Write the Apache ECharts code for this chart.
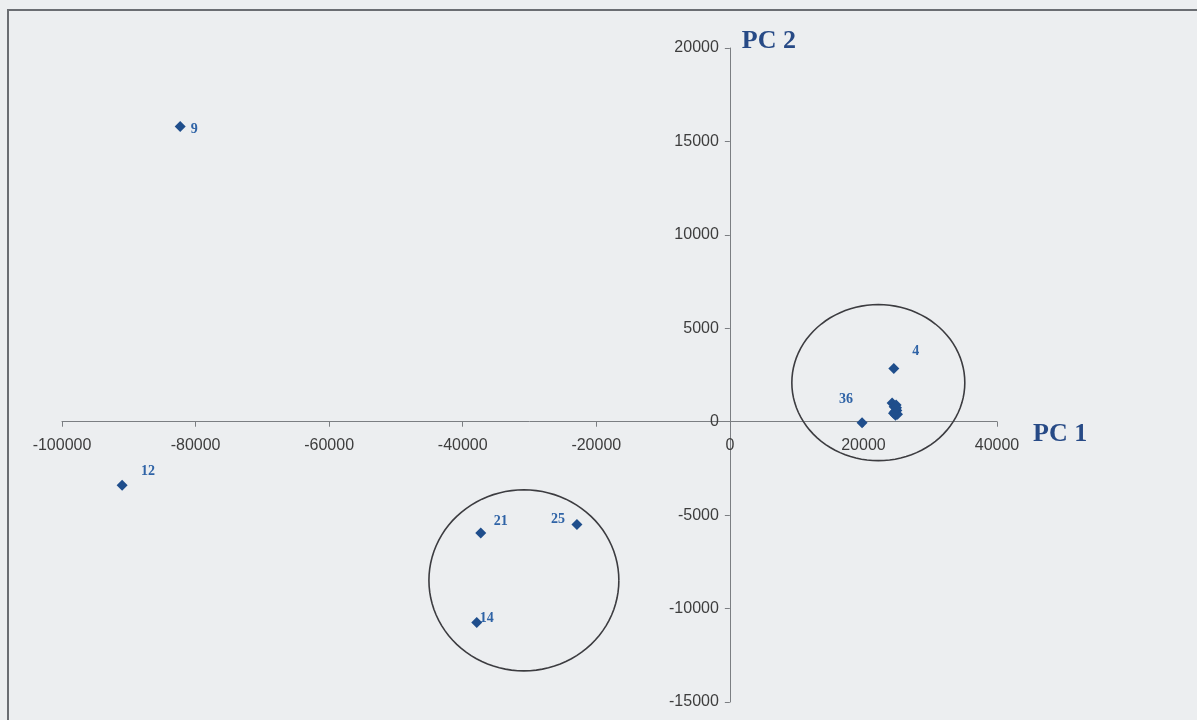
<!DOCTYPE html>
<html>
<head>
<meta charset="utf-8">
<style>
  html, body { margin: 0; padding: 0; background: #eceef0; }
  #frame { position: absolute; left: 7px; top: 9px; width: 1200px; height: 720px; border-left: 2px solid #6a6d72; border-top: 2px solid #6a6d72; }
  #chart { position: absolute; left: 0; top: 0; width: 1197px; height: 720px; }
</style>
<script src="https://cdn.jsdelivr.net/npm/echarts@6/dist/echarts.min.js"></script>
</head>
<body>
<div id="frame"></div>
<div id="chart"></div>
<script>
// Principal component scores (PC 1, PC 2) of the samples
const sampleNames = ['9', '12', '21', '25', '14', '36', '4'];
const pc1Scores   = [-82300, -91000, -37300, -22900, -37900, 19800, 24550];
const pc2Scores   = [15800, -3400, -5950, -5500, -10750, -50, 2850];
// Unlabelled samples packed together near the right cluster
const clusterPc1 = [24300, 24600, 24900, 24700, 25000, 24800, 25100, 24500, 24950];
const clusterPc2 = [1000, 800, 900, 550, 600, 350, 400, 450, 750];
// Group outlines: centre (PC 1, PC 2) and half-widths in axis units
const groupCentrePc1 = [22230, -30840];
const groupCentrePc2 = [2090, -8490];
const groupRadiusPc1 = [12950, 14220];
const groupRadiusPc2 = [4175, 4845];

const xTicks = { min: -100000, max: 40000, interval: 20000 };
const yTicks = { min: -15000, max: 20000, interval: 5000 };

// label placement per sample (offset in px from the marker)
const labelOffsets = {
  '9': [14, 3], '12': [26, -14], '21': [20, -12], '25': [-19, -5],
  '14': [10, -4], '36': [-16, -23], '4': [22, -17]
};

const markerColor = '#1f4e8c';
const labelColor = '#2f63a6';
const gridBox = { left: 62, top: 48, width: 935, height: 654 };

const labelled = sampleNames.map((n, i) => ({ value: [pc1Scores[i], pc2Scores[i]], name: n }));
const cluster = clusterPc1.map((x, i) => [x, clusterPc2[i]]);
const groups = groupCentrePc1.map((x, i) => [x, groupCentrePc2[i], groupRadiusPc1[i], groupRadiusPc2[i]]);

const plainNumber = v => String(v);

const chart = echarts.init(document.getElementById('chart'), null, { renderer: 'canvas' });
chart.setOption({
  backgroundColor: 'transparent',
  animation: false,
  grid: Object.assign({ containLabel: false, outerBoundsMode: 'none' }, gridBox),
  xAxis: {
    type: 'value', min: xTicks.min, max: xTicks.max, interval: xTicks.interval,
    position: 'bottom', offset: 0,
    splitLine: { show: false },
    axisLine: { onZero: false, lineStyle: { color: '#7b7e82', width: 1 } },
    axisTick: { show: true, length: 5, lineStyle: { color: '#7b7e82' } },
    axisLabel: { color: '#3d3d3d', fontFamily: 'Liberation Sans, Arial', fontSize: 16, margin: 16, formatter: plainNumber },
    name: 'PC 1', nameLocation: 'end', nameGap: 36,
    nameTextStyle: { color: '#274a86', fontFamily: 'Liberation Serif, Times New Roman', fontWeight: 'bold', fontSize: 26, verticalAlign: 'top', padding: [0, 0, 0, 0] }
  },
  yAxis: {
    type: 'value', min: yTicks.min, max: yTicks.max, interval: yTicks.interval,
    position: 'left', offset: 0,
    splitLine: { show: false },
    axisLine: { onZero: false, lineStyle: { color: '#7b7e82', width: 1 } },
    axisTick: { show: true, length: 5, lineStyle: { color: '#7b7e82' } },
    axisLabel: { color: '#3d3d3d', fontFamily: 'Liberation Sans, Arial', fontSize: 16, margin: 11, formatter: plainNumber },
    name: 'PC 2', nameLocation: 'end', nameGap: 7,
    nameTextStyle: { color: '#274a86', fontFamily: 'Liberation Serif, Times New Roman', fontWeight: 'bold', fontSize: 26, align: 'left', verticalAlign: 'middle', padding: [0, 0, 0, 12] }
  },
  series: [
    {
      type: 'custom',
      data: groups,
      silent: true,
      z: 1,
      renderItem: function (params, api) {
        const cx = api.value(0), cy = api.value(1), rx = api.value(2), ry = api.value(3);
        const pts = [];
        for (let k = 0; k <= 96; k++) {
          const a = k / 96 * Math.PI * 2;
          pts.push(api.coord([cx + rx * Math.cos(a), cy + ry * Math.sin(a)]));
        }
        return { type: 'polyline', shape: { points: pts }, style: { stroke: '#3c3c40', lineWidth: 1.6, fill: null } };
      }
    },
    {
      type: 'scatter',
      data: cluster,
      symbol: 'diamond',
      symbolSize: 11,
      itemStyle: { color: markerColor, opacity: 1 },
      z: 3
    },
    {
      type: 'scatter',
      data: labelled,
      symbol: 'diamond',
      symbolSize: 11,
      itemStyle: { color: markerColor, opacity: 1 },
      z: 4,
      label: {
        show: true,
        formatter: p => p.name,
        color: labelColor,
        fontFamily: 'Liberation Serif, Times New Roman',
        fontWeight: 'bold',
        fontSize: 14,
        position: 'inside'
      },
      labelLayout: function (params) {
        const name = sampleNames[params.dataIndex];
        const off = labelOffsets[name];
        return { x: params.rect.x + params.rect.width / 2 + off[0], y: params.rect.y + params.rect.height / 2 + off[1], align: 'center', verticalAlign: 'middle' };
      }
    }
  ]
});

// Move both axes so they cross at the origin, carrying their tick labels with them
const origin = chart.convertToPixel({ gridIndex: 0 }, [0, 0]);
const corner = chart.convertToPixel({ gridIndex: 0 }, [xTicks.min, yTicks.min]);
chart.setOption({
  xAxis: { offset: origin[1] - corner[1] },
  yAxis: { offset: corner[0] - origin[0] }
});
</script>
</body>
</html>
